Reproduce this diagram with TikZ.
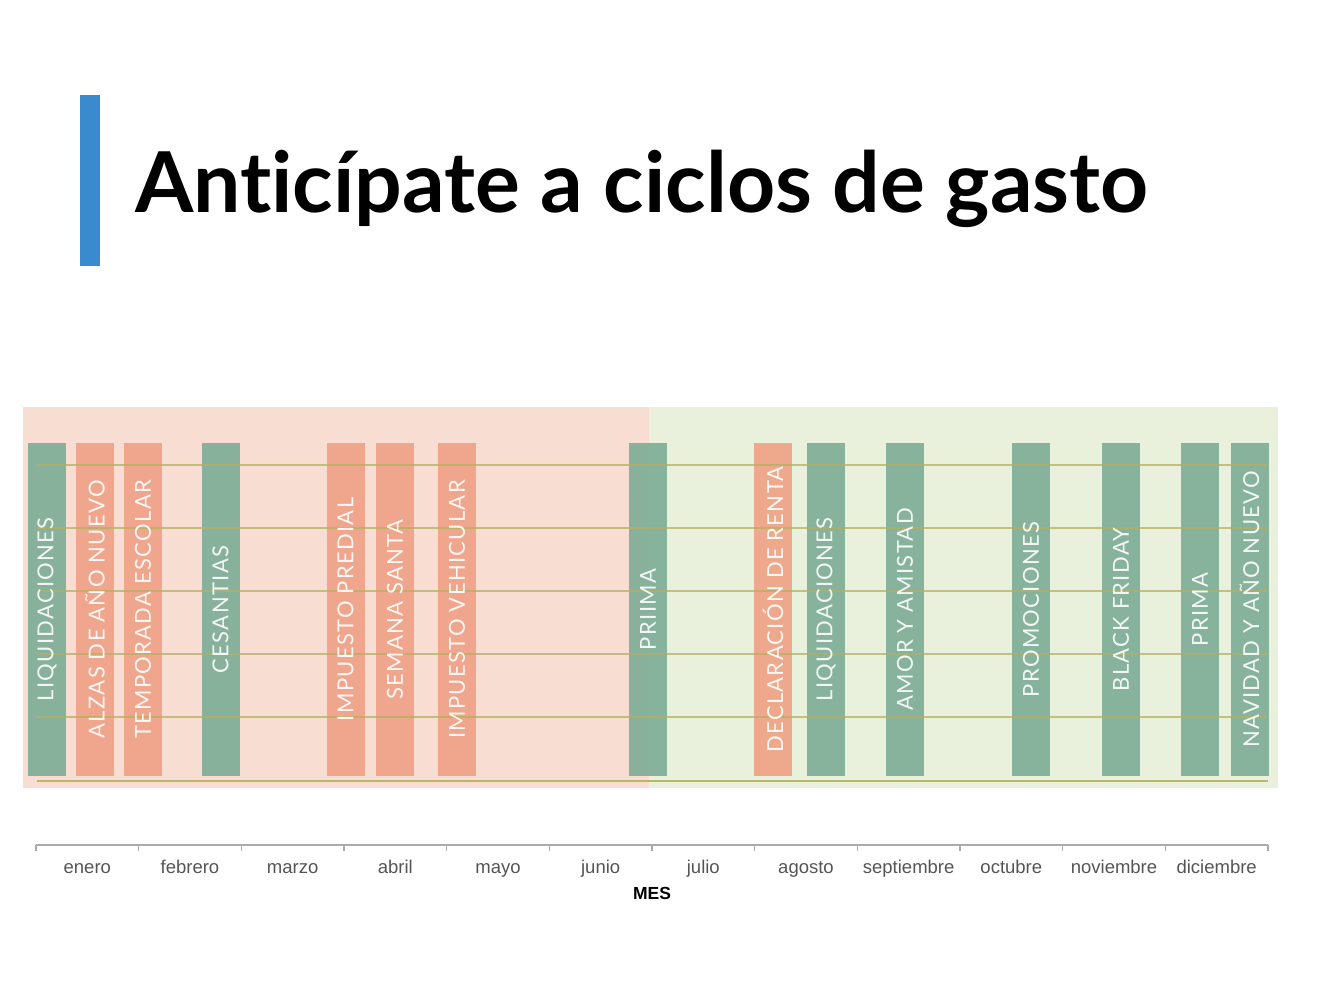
\documentclass[tikz,border=0pt]{standalone}
\usepackage{fontspec}
\setmainfont{Liberation Sans}
\newfontfamily\titlefont[Ligatures={NoCommon,NoRare,NoDiscretionary}]{Lato}
\newfontfamily\barfont[LetterSpace=6]{Lato}
\definecolor{accentBlue}{HTML}{3A8AD0}
\definecolor{bgPink}{HTML}{F8DDD3}
\definecolor{bgGreen}{HTML}{E9F0DB}
\definecolor{barGreen}{HTML}{7FAE98}
\definecolor{barSalmon}{HTML}{EFA286}
\definecolor{gridLine}{HTML}{B5B060}
\definecolor{axisGray}{HTML}{AAAAAA}
\definecolor{labelGray}{HTML}{555555}
\begin{document}
\begin{tikzpicture}[x=1pt,y=-1pt,
  bar/.style={minimum width=38pt, minimum height=333pt, inner sep=0pt, fill opacity=0.92},
  gbar/.style={bar, fill=barGreen},
  sbar/.style={bar, fill=barSalmon},
  bartext/.style={rotate=90, inner sep=0pt, text=white, text opacity=0.9,
    font=\barfont\fontsize{22}{22}\selectfont},
  grid/.style={draw=gridLine, line width=1.3pt, opacity=0.75},
  month/.style={text=labelGray, font=\fontsize{18.5}{18.5}\selectfont, anchor=base},
  tick/.style={draw=axisGray, line width=1.3pt}
]
\useasboundingbox (0,0) rectangle (1318,1006);
\fill[white] (0,0) rectangle (1318,1006);

% title
\fill[accentBlue] (80,95) rectangle (100,266);
\node[anchor=base west, inner sep=0pt, font=\titlefont\bfseries\fontsize{84}{84}\selectfont] (title) at (135,212) {Anticípate a ciclos de gasto};

% backgrounds
\fill[bgPink] (23,407) rectangle (648.5,788);
\fill[bgGreen] (648.5,407) rectangle (1278,788);

% bars
\node[gbar] (b1) at (47,609.5) {};
\node[sbar] (b2) at (95,609.5) {};
\node[sbar] (b3) at (143,609.5) {};
\node[gbar] (b4) at (220.5,609.5) {};
\node[sbar] (b5) at (345.5,609.5) {};
\node[sbar] (b6) at (395,609.5) {};
\node[sbar] (b7) at (457,609.5) {};
\node[gbar] (b8) at (648,609.5) {};
\node[sbar] (b9) at (773,609.5) {};
\node[gbar] (b10) at (826,609.5) {};
\node[gbar] (b11) at (905,609.5) {};
\node[gbar] (b12) at (1031,609.5) {};
\node[gbar] (b13) at (1121,609.5) {};
\node[gbar] (b14) at (1200,609.5) {};
\node[gbar] (b15) at (1249.5,609.5) {};

% grid lines
\foreach \yy in {465,528,591,654,717} {
  \path[grid] (37,\yy) -- (1268,\yy);
}
\path[grid, line width=2pt, opacity=0.9] (37,781) -- (1268,781);

% bar texts
\node[bartext] (l1) at (b1.center) {LIQUIDACIONES};
\node[bartext] (l2) at (b2.center) {ALZAS DE AÑO NUEVO};
\node[bartext] (l3) at (b3.center) {TEMPORADA ESCOLAR};
\node[bartext] (l4) at (b4.center) {CESANTIAS};
\node[bartext] (l5) at (b5.center) {IMPUESTO PREDIAL};
\node[bartext] (l6) at (b6.center) {SEMANA SANTA};
\node[bartext] (l7) at (b7.center) {IMPUESTO VEHICULAR};
\node[bartext] (l8) at (b8.center) {PRIIMA};
\node[bartext] (l9) at (b9.center) {DECLARACIÓN DE RENTA};
\node[bartext] (l10) at (b10.center) {LIQUIDACIONES};
\node[bartext] (l11) at (b11.center) {AMOR Y AMISTAD};
\node[bartext] (l12) at (b12.center) {PROMOCIONES};
\node[bartext] (l13) at (b13.center) {BLACK FRIDAY};
\node[bartext] (l14) at (b14.center) {PRIMA};
\node[bartext] (l15) at (b15.center) {NAVIDAD Y AÑO NUEVO};

% axis
\foreach \i in {0,...,12} {
  \coordinate (t\i) at ({36+\i*102.67},845);
}
\path[tick] (t0) -- (t12);
\foreach \i in {0,...,12} {
  \path[tick] (t\i) -- ++(0,6);
}
\foreach \m [count=\i from 0] in {enero,febrero,marzo,abril,mayo,junio,julio,agosto,septiembre,octubre,noviembre,diciembre} {
  \node[month] (m\i) at ({87.3+\i*102.67},873) {\m};
}
\node[font=\bfseries\fontsize{17.5}{17.5}\selectfont, anchor=base] (mes) at (652,899) {MES};
\end{tikzpicture}
\end{document}
